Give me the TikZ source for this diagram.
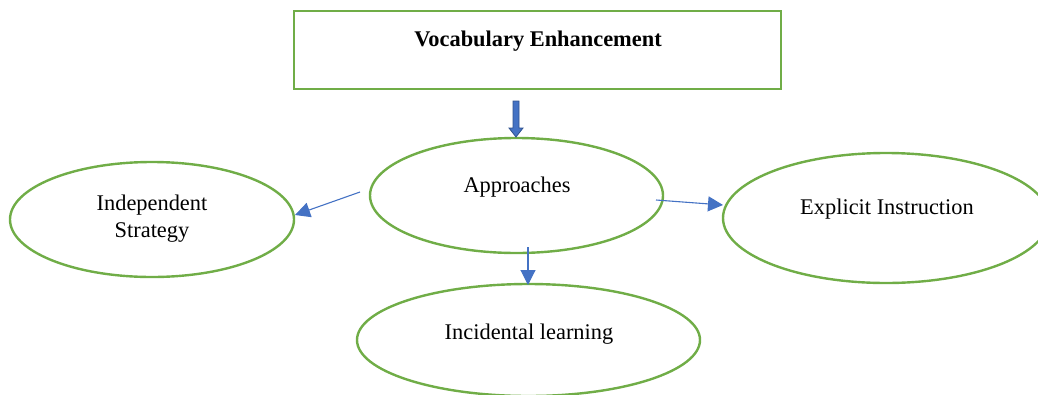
\documentclass[tikz,border=0pt]{standalone}
\usepackage{fontspec}
\setmainfont{Liberation Serif}
\usetikzlibrary{shapes.geometric,arrows.meta}
\definecolor{boxgreen}{HTML}{70AD47}
\definecolor{arrowblue}{HTML}{4472C4}
\definecolor{darkblue}{HTML}{2F528F}
\tikzset{
  oval/.style={draw=boxgreen, line width=2.4pt, ellipse, inner sep=0pt},
  txt/.style={anchor=base, inner sep=0pt, font=\fontsize{22.4}{27}\selectfont},
  link/.style={draw=arrowblue, line width=1.1pt, -{Triangle[length=15pt,width=15pt]}},
}
\begin{document}
\begin{tikzpicture}[x=1pt,y=-1pt]
\useasboundingbox (0,0) rectangle (1038,394);
\clip (0,0) rectangle (1038,394);
% top box
\node[draw=boxgreen, line width=2.4pt, minimum width=487pt, minimum height=78pt, inner sep=0pt] (top) at (537.5,50) {};
\node[txt, font=\fontsize{22.4}{27}\selectfont\bfseries] (toptxt) at (538,46.5) {Vocabulary Enhancement};
% ellipses
\node[oval, minimum width=293pt, minimum height=115pt] (app) at (516.5,195.5) {};
\node[oval, minimum width=284pt, minimum height=115pt] (ind) at (152,219.5) {};
\node[oval, minimum width=326pt, minimum height=130pt] (exp) at (886,218) {};
\node[oval, minimum width=343pt, minimum height=112pt] (inc) at (528.5,340) {};
% texts
\node[txt] (apptxt) at (517,192) {Approaches};
\node[txt] (indtxt1) at (152,210) {Independent};
\node[txt] (indtxt2) at (152,237) {Strategy};
\node[txt] (exptxt) at (887,214) {Explicit Instruction};
\node[txt] (inctxt) at (529,339) {Incidental learning};
% block arrow
\filldraw[fill=arrowblue, draw=darkblue, line width=0.8pt]
  (513,101) -- (519,101) -- (519,128) -- (523,128) -- (516,137) -- (509,128) -- (513,128) -- cycle;
% connectors
\coordinate (s1) at (360,192);
\coordinate (t1) at (295,215);
\coordinate (s2) at (656,200);
\coordinate (t2) at (723,205);
\coordinate (s3) at (528,247);
\coordinate (t3) at (528,285);
\draw[link] (s1) -- (t1);
\draw[link] (s2) -- (t2);
\draw[link] (s3) -- (t3);
\end{tikzpicture}
\end{document}
